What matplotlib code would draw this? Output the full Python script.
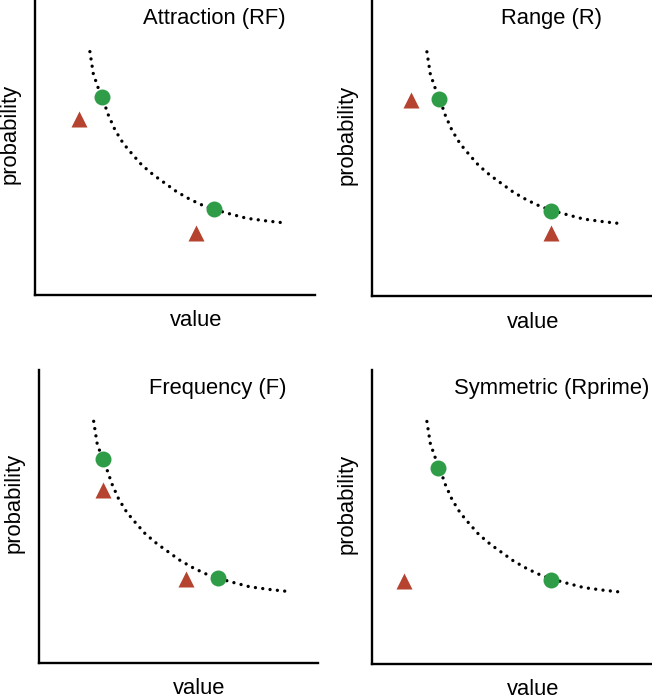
import matplotlib
matplotlib.use("Agg")
import matplotlib.pyplot as plt

plt.rcParams["font.family"] = ["Liberation Sans", "DejaVu Sans"]

# Shared dotted curve (axes fractions)
curve_x = [0.196, 0.208, 0.224, 0.240, 0.262, 0.286, 0.315, 0.345, 0.381, 0.423,
           0.464, 0.506, 0.554, 0.601, 0.639, 0.696, 0.756, 0.827, 0.885]
curve_y = [0.825, 0.751, 0.706, 0.670, 0.610, 0.559, 0.514, 0.480, 0.441, 0.407,
           0.379, 0.350, 0.324, 0.303, 0.290, 0.275, 0.260, 0.251, 0.245]

titles = ["Attraction (RF)", "Range (R)", "Frequency (F)", "Symmetric (Rprime)"]

# Green circles per panel
green_x = [[0.240, 0.639], [0.239, 0.638], [0.228, 0.640], [0.235, 0.639]]
green_y = [[0.670, 0.290], [0.666, 0.288], [0.698, 0.290], [0.668, 0.285]]

# Red triangles per panel
tri_x = [[0.157, 0.575], [0.138, 0.639], [0.228, 0.526], [0.114]]
tri_y = [[0.596, 0.211], [0.662, 0.214], [0.590, 0.286], [0.283]]

green = "#2f9c47"
red = "#b5432f"
fs = 15.8

fig = plt.figure(figsize=(6.52, 6.98), dpi=100)
boxes = [
    [0.0537, 0.5774, 0.4294, 0.4226],
    [0.5706, 0.5759, 0.4294, 0.4241],
    [0.0598, 0.0501, 0.4279, 0.4198],
    [0.5706, 0.0487, 0.4294, 0.4212],
]

for i, box in enumerate(boxes):
    ax = fig.add_axes(box)
    ax.set_xlim(0, 1)
    ax.set_ylim(0, 1)
    ax.set_xticks([])
    ax.set_yticks([])
    for s in ["top", "right"]:
        ax.spines[s].set_visible(False)
    for s in ["left", "bottom"]:
        ax.spines[s].set_linewidth(1.7)

    ax.plot(curve_x, curve_y, color="black", lw=2.4,
            linestyle=(0, (0.01, 2.2)), dash_capstyle="round", zorder=1)
    ax.plot(green_x[i], green_y[i], "o", color=green, ms=11.5, mec="none", zorder=3)
    ax.plot(tri_x[i], tri_y[i], "^", color=red, ms=11, mec="none", zorder=3)

    ax.text(0.64, 0.937, titles[i], transform=ax.transAxes, ha="center",
            va="center", fontsize=fs)
    ax.text(0.575, -0.088, "value", transform=ax.transAxes, ha="center",
            va="center", fontsize=fs)
    ax.text(-0.088, 0.545, "probability", transform=ax.transAxes, ha="center",
            va="center", rotation=90, fontsize=fs)

fig.savefig("out.png", dpi=100)
